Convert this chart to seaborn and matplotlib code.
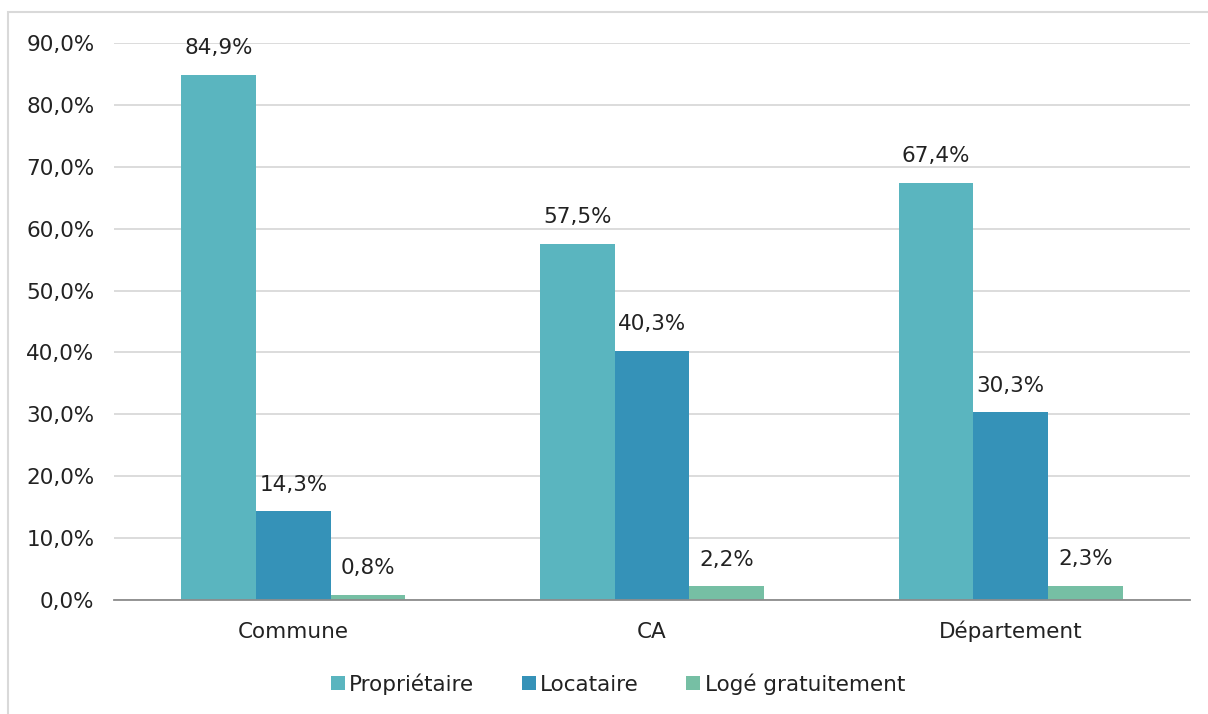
import matplotlib
matplotlib.use("Agg")
import matplotlib.pyplot as plt
import seaborn as sns
import pandas as pd
from matplotlib.patches import Rectangle

categories = ["Commune", "CA", "Département"]
series = ["Propriétaire", "Locataire", "Logé gratuitement"]
proprietaire = [84.9, 57.5, 67.4]
locataire = [14.3, 40.3, 30.3]
loge = [0.8, 2.2, 2.3]
colors = ["#5AB5BF", "#3592B8", "#76BFA4"]
yticks = [0, 10, 20, 30, 40, 50, 60, 70, 80, 90]

rows = []
for s, vals in zip(series, [proprietaire, locataire, loge]):
    for c, v in zip(categories, vals):
        rows.append({"cat": c, "serie": s, "val": v})
df = pd.DataFrame(rows)

sns.set_theme(style="white")
plt.rcParams['font.family'] = ['DejaVu Sans']

FS = 15.5
W, H = 1208, 714
fig = plt.figure(figsize=(W / 100, H / 100), dpi=100)
ax = fig.add_axes([114 / W, 1 - 600 / H, (1190 - 114) / W, (600 - 43) / H])

sns.barplot(data=df, x="cat", y="val", hue="serie", order=categories,
            hue_order=series, palette=colors, width=0.625, ax=ax,
            saturation=1, edgecolor="none", linewidth=0)

ax.set_ylim(0, 90)
ax.set_xlim(-0.5, 2.5)
ax.set_yticks(yticks)
ax.set_yticklabels([f"{t:.1f}%".replace(".", ",") for t in yticks], fontsize=FS, color="#222222")
ax.tick_params(axis="x", labelsize=FS, colors="#222222", length=0, pad=27)
ax.tick_params(axis="y", length=0, pad=14)
for lbl in ax.get_xticklabels():
    lbl.set_verticalalignment("baseline")
ax.set_xlabel("")
ax.set_ylabel("")
ax.yaxis.grid(True, color="#D9D9D9", linewidth=1.3)
ax.set_axisbelow(True)
for sp in ["top", "right", "left"]:
    ax.spines[sp].set_visible(False)
ax.spines["bottom"].set_color("#8C8C8C")
ax.spines["bottom"].set_linewidth(1.3)

for cont in ax.containers:
    labels = [f"{v:.1f}%".replace(".", ",") for v in cont.datavalues]
    ax.bar_label(cont, labels=labels, padding=12, fontsize=FS, color="#222222")

leg = ax.legend(loc="center", bbox_to_anchor=(618 / W, 1 - 684 / H),
                bbox_transform=fig.transFigure, ncol=3, frameon=False,
                fontsize=FS, handlelength=0.65, handleheight=0.65,
                handletextpad=0.2, columnspacing=2.2)
for t in leg.get_texts():
    t.set_color("#222222")

fig.patches.append(Rectangle((8 / W, -0.1), 1.2, 1 - 12 / H + 0.1,
                             transform=fig.transFigure, fill=False,
                             edgecolor="#D9D9D9", linewidth=1.5))

fig.savefig("out.png", dpi=100)
